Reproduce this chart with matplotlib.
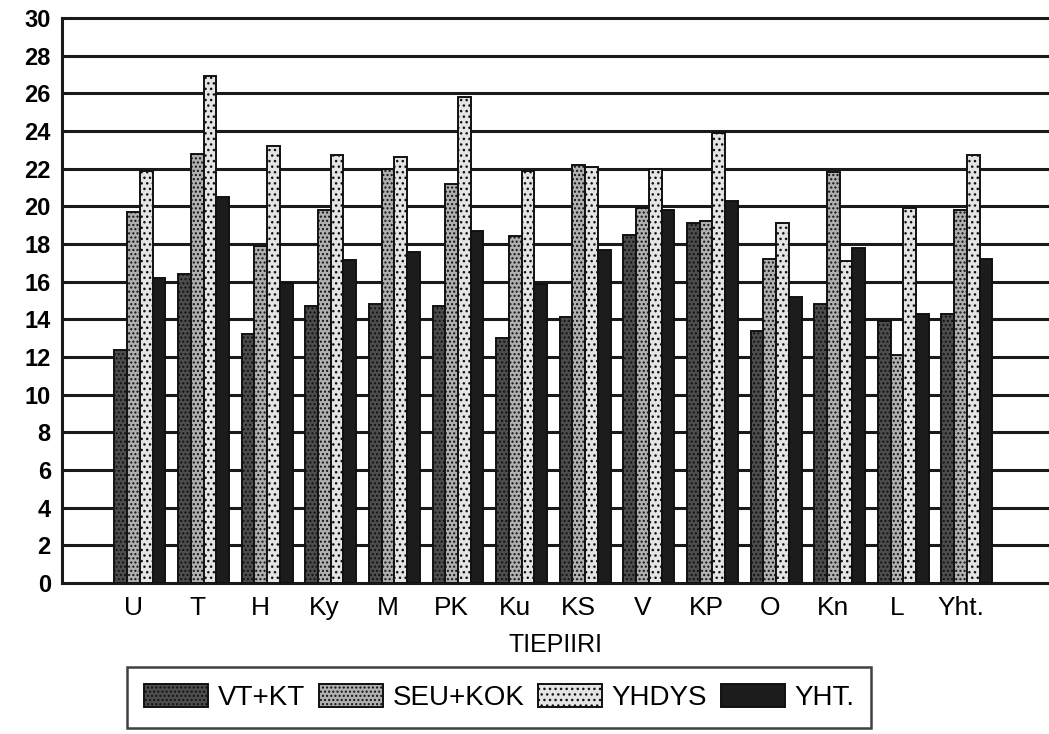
import matplotlib.pyplot as plt
import numpy as np

plt.rcParams['font.family'] = ['Liberation Sans', 'DejaVu Sans']

categories = ['U', 'T', 'H', 'Ky', 'M', 'PK', 'Ku', 'KS', 'V', 'KP', 'O', 'Kn', 'L', 'Yht.']
vt_kt   = [12.35, 16.4, 13.2, 14.7, 14.8, 14.7, 13.0, 14.1, 18.5, 19.1, 13.4, 14.8, 13.9, 14.3]
seu_kok = [19.7, 22.8, 17.9, 19.8, 22.0, 21.2, 18.4, 22.2, 19.9, 19.2, 17.2, 21.8, 12.1, 19.8]
yhdys   = [21.9, 26.9, 23.2, 22.7, 22.6, 25.8, 21.9, 22.1, 22.0, 23.9, 19.1, 17.1, 19.9, 22.7]
yht     = [16.2, 20.5, 15.95, 17.15, 17.6, 18.7, 15.9, 17.7, 19.8, 20.3, 15.2, 17.8, 14.3, 17.2]

series = ['VT+KT', 'SEU+KOK', 'YHDYS', 'YHT.']
values = [vt_kt, seu_kok, yhdys, yht]
faces = ['#4d4d4d', '#b0b0b0', '#e4e4e4', '#1c1c1c']
hatches = ['....', '....', '...', '']

fig = plt.figure(figsize=(10.49, 7.34), dpi=100)
ax = fig.add_axes([0.059, 0.2057, 0.941, 0.7698])

x = np.arange(len(categories))
w = 0.2
for i, (name, vals) in enumerate(zip(series, values)):
    ax.bar(x + (i - 1.5) * w, vals, w, label=name, color=faces[i],
           hatch=hatches[i], edgecolor='#111111', linewidth=1.4, zorder=3)

ax.set_ylim(0, 30)
ax.set_xlim(-1.226, 14.29)
ax.set_yticks(range(0, 31, 2))
for yv in range(2, 30, 2):
    ax.axhline(yv, color='#1a1a1a', linewidth=2.2, zorder=1)
ax.set_xticks(x - 0.1)
ax.set_xticklabels(categories, fontsize=19)
ax.tick_params(axis='y', labelsize=17, length=0, pad=8)
ax.tick_params(axis='x', length=0, pad=9)
for lab in ax.get_yticklabels():
    lab.set_fontweight('bold')
for side in ['left', 'top', 'bottom']:
    ax.spines[side].set_linewidth(2.2)
    ax.spines[side].set_color('#1a1a1a')
ax.spines['right'].set_visible(False)

ax.set_xlabel('TIEPIIRI', fontsize=18, labelpad=10)

leg = fig.legend(loc='center', bbox_to_anchor=(0.476, 0.050), ncol=4,
                 fontsize=20, fancybox=False, edgecolor='#111111',
                 handlelength=2.3, handleheight=0.9, columnspacing=0.5,
                 handletextpad=0.35, borderpad=0.6, borderaxespad=0)
leg.get_frame().set_linewidth(1.8)

fig.savefig('out.png', dpi=100)
